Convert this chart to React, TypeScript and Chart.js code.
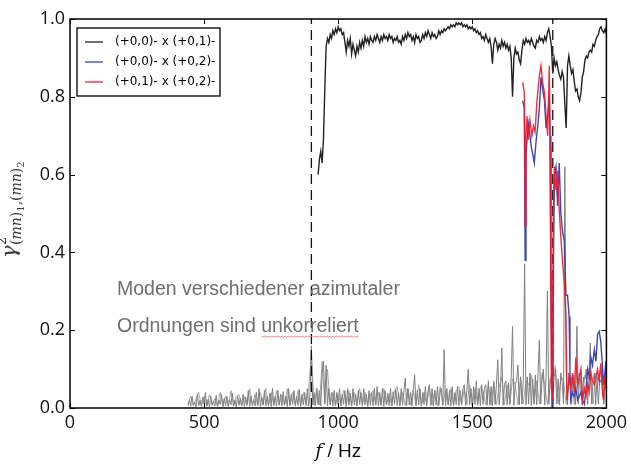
import React, { useEffect, useRef } from 'react';
import { Chart, registerables } from 'chart.js';

Chart.register(...registerables);

// ---------- axis ticks & labels ----------
const X_TICKS = [0, 500, 1000, 1500, 2000];
const Y_TICKS = [0, 0.2, 0.4, 0.6, 0.8, 1.0];
const LEGEND_LABELS = ['(+0,0)- x (+0,1)-', '(+0,0)- x (+0,2)-', '(+0,1)- x (+0,2)-'];
const ANNOTATION_LINES = ['Moden verschiedener azimutaler', 'Ordnungen sind unkorreliert'];
const X_TITLE_MATH = 'f';
const X_TITLE_TEXT = ' / Hz';
const VLINE_FREQS = [900, 1800];

// ---------- black: (+0,0) x (+0,1), 5 Hz grid from 925 Hz ----------
const BLACK_F0 = 925;
const BLACK_STEP = 5;
const BLACK_V = [
  0.60, 0.64, 0.66, 0.63, 0.69, 0.82, 0.93, 0.95, 0.94, 0.96,
  0.95, 0.97, 0.96, 0.975, 0.965, 0.98, 0.97, 0.975, 0.96, 0.965,
  0.94, 0.915, 0.945, 0.93, 0.95, 0.91, 0.935, 0.92, 0.905, 0.93,
  0.915, 0.94, 0.925, 0.945, 0.93, 0.955, 0.94, 0.95, 0.935, 0.955,
  0.945, 0.94, 0.955, 0.945, 0.96, 0.95, 0.94, 0.955, 0.945, 0.96,
  0.95, 0.955, 0.945, 0.96, 0.95, 0.955, 0.94, 0.95, 0.945, 0.955,
  0.94, 0.945, 0.935, 0.955, 0.945, 0.96, 0.95, 0.965, 0.955, 0.96,
  0.945, 0.955, 0.94, 0.96, 0.95, 0.955, 0.94, 0.945, 0.96, 0.95,
  0.965, 0.955, 0.97, 0.96, 0.95, 0.965, 0.955, 0.96, 0.95, 0.955,
  0.97, 0.96, 0.97, 0.965, 0.975, 0.97, 0.975, 0.98, 0.975, 0.985,
  0.98, 0.985, 0.98, 0.99, 0.985, 0.99, 0.985, 0.99, 0.98, 0.985,
  0.98, 0.985, 0.975, 0.98, 0.975, 0.98, 0.97, 0.975, 0.965, 0.97,
  0.96, 0.965, 0.95, 0.955, 0.945, 0.96, 0.95, 0.94, 0.95, 0.93,
  0.885, 0.935, 0.95, 0.94, 0.92, 0.935, 0.925, 0.945, 0.93, 0.94,
  0.925, 0.935, 0.92, 0.93, 0.90, 0.80, 0.90, 0.925, 0.91, 0.915,
  0.895, 0.885, 0.92, 0.945, 0.935, 0.95, 0.94, 0.945, 0.935, 0.95,
  0.94, 0.93, 0.925, 0.945, 0.94, 0.955, 0.945, 0.95, 0.94, 0.955,
  0.945, 0.965, 0.975, 0.955, 0.93, 0.86, 0.90, 0.88, 0.89, 0.87,
  0.855, 0.845, 0.865, 0.85, 0.78, 0.72, 0.88, 0.905, 0.88, 0.86,
  0.87, 0.84, 0.815, 0.82, 0.80, 0.79, 0.81, 0.85, 0.865, 0.895,
  0.905, 0.90, 0.915, 0.92, 0.915, 0.935, 0.93, 0.945, 0.955, 0.96,
  0.975, 0.98, 0.97, 0.965, 0.975, 0.96,
];

// ---------- blue: (+0,0) x (+0,2) ----------
const BLUE_F = [
  1688, 1694, 1697, 1700, 1704, 1709, 1715, 1720, 1726, 1731, 1737, 1744, 1750, 1756, 1762,
  1769, 1775, 1781, 1787, 1790, 1793, 1797, 1800, 1803, 1806, 1812, 1818, 1824, 1830, 1837,
  1843, 1849, 1855, 1861, 1864, 1867, 1873, 1880, 1886, 1893, 1899, 1905, 1911, 1918, 1924,
  1930, 1936, 1942, 1948, 1955, 1961, 1967, 1973, 1979, 1984, 1989, 1994, 1998, 2000,
];
const BLUE_V = [
  0.79, 0.77, 0.38, 0.65, 0.69, 0.73, 0.70, 0.67, 0.65, 0.63, 0.68, 0.725, 0.77, 0.85, 0.82,
  0.79, 0.72, 0.75, 0.80, 0.70, 0.33, 0.01, 0.02, 0.40, 0.60, 0.62, 0.52, 0.63, 0.50, 0.45,
  0.43, 0.29, 0.29, 0.235, 0.10, 0.02, 0.04, 0.03, 0.05, 0.02, 0.03, 0.04, 0.02, 0.01, 0.05,
  0.10, 0.08, 0.13, 0.11, 0.15, 0.12, 0.19, 0.197, 0.17, 0.12, 0.06, 0.09, 0.12, 0.05,
];

// ---------- red: (+0,1) x (+0,2) ----------
const RED_F = [
  1688, 1694, 1697, 1700, 1704, 1709, 1715, 1722, 1728, 1734, 1741, 1750, 1756, 1762, 1769,
  1775, 1781, 1787, 1790, 1793, 1795, 1797, 1799, 1802, 1806, 1812, 1818, 1824, 1830, 1837,
  1843, 1849, 1853, 1861, 1868, 1874, 1880, 1886, 1893, 1899, 1905, 1911, 1918, 1924, 1930,
  1936, 1942, 1948, 1955, 1961, 1967, 1973, 1979, 1984, 1989, 1994, 1998,
];
const RED_V = [
  0.837, 0.81, 0.467, 0.70, 0.75, 0.69, 0.74, 0.70, 0.725, 0.71, 0.79, 0.854, 0.88, 0.837, 0.81,
  0.75, 0.70, 0.88, 0.67, 0.32, 0.05, 0.35, 0.02, 0.50, 0.62, 0.56, 0.61, 0.51, 0.44, 0.37,
  0.32, 0.235, 0.02, 0.08, 0.05, 0.09, 0.04, 0.13, 0.06, 0.08, 0.10, 0.02, 0.05, 0.03, 0.06,
  0.04, 0.09, 0.07, 0.06, 0.08, 0.10, 0.07, 0.115, 0.05, 0.02, 0.08, 0.06,
];

// ---------- grey: other mode pairs (5 Hz grid from 440 Hz) ----------
const GREY_F0 = 440;
const GREY_STEP = 5;
const GREY_V = [
  0.005, 0.02, 0.004, 0.03, 0.008, 0.015, 0.003, 0.035, 0.006, 0.02,
  0.004, 0.028, 0.01, 0.04, 0.005, 0.022, 0.003, 0.03, 0.007, 0.018,
  0.005, 0.032, 0.004, 0.02, 0.009, 0.035, 0.003, 0.025, 0.006, 0.03,
  0.004, 0.022, 0.008, 0.038, 0.005, 0.02, 0.003, 0.03, 0.007, 0.025,
  0.005, 0.035, 0.004, 0.028, 0.009, 0.045, 0.004, 0.03, 0.006, 0.022,
  0.005, 0.04, 0.007, 0.05, 0.004, 0.028, 0.008, 0.045, 0.005, 0.03,
  0.006, 0.038, 0.004, 0.05, 0.008, 0.03, 0.005, 0.045, 0.007, 0.035,
  0.005, 0.042, 0.008, 0.03, 0.004, 0.05, 0.006, 0.035, 0.009, 0.045,
  0.005, 0.03, 0.007, 0.048, 0.004, 0.035, 0.008, 0.04, 0.006, 0.05,
  0.005, 0.035, 0.16, 0.008, 0.04, 0.006, 0.05, 0.008, 0.045, 0.005,
  0.09, 0.12, 0.01, 0.11, 0.006, 0.05, 0.008, 0.04, 0.005, 0.045,
  0.006, 0.04, 0.008, 0.05, 0.005, 0.035, 0.009, 0.045, 0.004, 0.05,
  0.007, 0.038, 0.005, 0.05, 0.008, 0.035, 0.006, 0.045, 0.009, 0.04,
  0.005, 0.05, 0.008, 0.035, 0.004, 0.045, 0.007, 0.04, 0.006, 0.05,
  0.008, 0.055, 0.005, 0.04, 0.007, 0.05, 0.004, 0.045, 0.008, 0.038,
  0.006, 0.05, 0.005, 0.042, 0.009, 0.048, 0.006, 0.04, 0.005, 0.05,
  0.007, 0.045, 0.077, 0.006, 0.05, 0.008, 0.04, 0.005, 0.048, 0.085,
  0.006, 0.045, 0.008, 0.05, 0.005, 0.04, 0.009, 0.055, 0.006, 0.045,
  0.06, 0.007, 0.05, 0.005, 0.045, 0.008, 0.055, 0.006, 0.04, 0.05,
  0.007, 0.15, 0.006, 0.05, 0.008, 0.045, 0.005, 0.055, 0.007, 0.04,
  0.008, 0.055, 0.006, 0.045, 0.009, 0.05, 0.06, 0.007, 0.048, 0.10,
  0.008, 0.05, 0.006, 0.055, 0.009, 0.07, 0.007, 0.05, 0.006, 0.06,
  0.009, 0.05, 0.06, 0.007, 0.07, 0.008, 0.055, 0.006, 0.065, 0.009,
  0.06, 0.124, 0.008, 0.05, 0.154, 0.007, 0.06, 0.07, 0.008, 0.065,
  0.009, 0.08, 0.21, 0.007, 0.06, 0.07, 0.11, 0.008, 0.08, 0.01,
  0.07, 0.37, 0.008, 0.08, 0.01, 0.09, 0.007, 0.075, 0.01, 0.085,
  0.008, 0.09, 0.175, 0.01, 0.07, 0.10, 0.008, 0.08, 0.30, 0.01,
  0.06, 0.09, 0.008, 0.08, 0.10, 0.01, 0.075, 0.008, 0.09, 0.065,
  0.01, 0.62, 0.10, 0.008, 0.09, 0.07, 0.01, 0.085, 0.065, 0.009,
  0.21, 0.01, 0.09, 0.06, 0.008, 0.08, 0.075, 0.10, 0.009, 0.08,
  0.167, 0.01, 0.07, 0.09, 0.008, 0.08, 0.01, 0.075, 0.065, 0.09,
  0.01, 0.08, 0.05,
];

// ---------- light grey: further mode pairs (10 Hz grid from 440 Hz) ----------
const LGREY_F0 = 440;
const LGREY_STEP = 10;
const LGREY_V = [
  0.01, 0.03, 0.005, 0.025, 0.04, 0.006, 0.03, 0.004, 0.035, 0.008,
  0.025, 0.005, 0.04, 0.007, 0.03, 0.005, 0.045, 0.006, 0.03, 0.035,
  0.006, 0.03, 0.005, 0.05, 0.008, 0.035, 0.005, 0.04, 0.007, 0.05,
  0.006, 0.04, 0.005, 0.045, 0.008, 0.035, 0.006, 0.05, 0.007, 0.04,
  0.008, 0.045, 0.006, 0.04, 0.009, 0.05, 0.14, 0.007, 0.05, 0.008,
  0.12, 0.01, 0.10, 0.008, 0.04, 0.006, 0.035, 0.008, 0.045, 0.006,
  0.045, 0.007, 0.04, 0.006, 0.05, 0.008, 0.04, 0.006, 0.035, 0.045,
  0.007, 0.04, 0.006, 0.05, 0.008, 0.035, 0.006, 0.045, 0.055, 0.008,
  0.04, 0.006, 0.05, 0.008, 0.045, 0.007, 0.06, 0.006, 0.04, 0.008,
  0.05, 0.007, 0.045, 0.006, 0.055, 0.008, 0.045, 0.007, 0.05, 0.006,
  0.045, 0.055, 0.007, 0.05, 0.008, 0.06, 0.007, 0.05, 0.009, 0.055,
  0.045, 0.008, 0.06, 0.007, 0.07, 0.009, 0.055, 0.08, 0.008, 0.06,
  0.01, 0.075, 0.06, 0.008, 0.08, 0.01, 0.07, 0.06, 0.085, 0.01,
  0.07, 0.01, 0.09, 0.06, 0.008, 0.075, 0.08, 0.11, 0.01, 0.08,
  0.07, 0.01, 0.065, 0.08, 0.009, 0.10, 0.07, 0.01, 0.085, 0.075,
  0.08, 0.01, 0.09, 0.07, 0.11, 0.01, 0.08,
];

const COLORS = {
  black: '#222222',
  blue: '#3c46b4',
  red: 'rgba(240,24,40,0.9)',
  grey: '#808080',
  lgrey: '#a8a8a8',
};

const gridSeries = (f0: number, step: number, vals: number[]) =>
  vals.map((v, i) => ({ x: f0 + i * step, y: v }));
const pairSeries = (fs: number[], vs: number[]) => fs.map((f, i) => ({ x: f, y: vs[i] }));

const decorPlugin = {
  id: 'decor',
  afterDraw(chart: any) {
    const { ctx, chartArea: a, scales } = chart;
    const xs = scales.x;
    const ys = scales.y;
    ctx.save();

    // frame
    ctx.strokeStyle = '#000';
    ctx.lineWidth = 1.5;
    ctx.strokeRect(a.left, a.top, a.right - a.left, a.bottom - a.top);

    // inward ticks on all four sides
    ctx.lineWidth = 1;
    ctx.beginPath();
    const TL = 5;
    X_TICKS.forEach((v) => {
      const px = Math.round(xs.getPixelForValue(v)) + 0.5;
      ctx.moveTo(px, a.bottom);
      ctx.lineTo(px, a.bottom - TL);
      ctx.moveTo(px, a.top);
      ctx.lineTo(px, a.top + TL);
    });
    Y_TICKS.forEach((v) => {
      const py = Math.round(ys.getPixelForValue(v)) + 0.5;
      ctx.moveTo(a.left, py);
      ctx.lineTo(a.left + TL, py);
      ctx.moveTo(a.right, py);
      ctx.lineTo(a.right - TL, py);
    });
    ctx.stroke();

    // legend box
    const lx = a.left + 7;
    const ly = a.top + 9;
    const lw = 143;
    const lh = 68;
    ctx.fillStyle = '#fff';
    ctx.fillRect(lx, ly, lw, lh);
    ctx.strokeStyle = '#000';
    ctx.lineWidth = 1.3;
    ctx.strokeRect(lx, ly, lw, lh);
    const legendColors = [COLORS.black, COLORS.blue, '#f0202e'];
    ctx.font = '12px "DejaVu Sans"';
    ctx.textBaseline = 'middle';
    ctx.textAlign = 'left';
    LEGEND_LABELS.forEach((lab, i) => {
      const cy = ly + 14 + i * 20;
      ctx.strokeStyle = legendColors[i];
      ctx.lineWidth = 1.3;
      ctx.beginPath();
      ctx.moveTo(lx + 8, cy);
      ctx.lineTo(lx + 26, cy);
      ctx.stroke();
      ctx.fillStyle = '#000';
      ctx.fillText(lab, lx + 38, cy);
    });

    // annotation text
    ctx.fillStyle = '#6e6e6e';
    ctx.font = '19.5px "Liberation Sans"';
    ctx.textBaseline = 'alphabetic';
    const tx = a.left + 47;
    const b1 = a.top + 276;
    const b2 = a.top + 313;
    ctx.fillText(ANNOTATION_LINES[0], tx, b1);
    ctx.fillText(ANNOTATION_LINES[1], tx, b2);
    // spell-check style wavy underline under last word
    const words = ANNOTATION_LINES[1].split(' ');
    const lastWord = words[words.length - 1];
    const prefix = ANNOTATION_LINES[1].slice(0, ANNOTATION_LINES[1].length - lastWord.length);
    const ux0 = tx + ctx.measureText(prefix).width;
    const ux1 = ux0 + ctx.measureText(lastWord).width;
    ctx.strokeStyle = 'rgba(230,70,70,0.85)';
    ctx.lineWidth = 0.8;
    ctx.beginPath();
    let up = true;
    for (let x = ux0; x <= ux1; x += 1.5) {
      const y = b2 + 4 + (up ? 0 : 1.2);
      if (x === ux0) ctx.moveTo(x, y);
      else ctx.lineTo(x, y);
      up = !up;
    }
    ctx.stroke();

    // x-axis title
    ctx.fillStyle = '#111';
    ctx.font = 'italic 19px "DejaVu Serif"';
    const wf = ctx.measureText(X_TITLE_MATH).width;
    ctx.font = '19px "Liberation Sans"';
    const wt = ctx.measureText(X_TITLE_TEXT).width;
    const cx = (a.left + a.right) / 2;
    const sx = cx - (wf + wt) / 2;
    const by = 457;
    ctx.font = 'italic 19px "DejaVu Serif"';
    ctx.fillText(X_TITLE_MATH, sx, by);
    ctx.font = '19px "Liberation Sans"';
    ctx.fillText(X_TITLE_TEXT, sx + wf, by);

    // y-axis title: gamma^2_{(mn)_1,(mn)_2}
    ctx.translate(16, 258);
    ctx.rotate(-Math.PI / 2);
    ctx.fillStyle = '#3a3a3a';
    let x = 0;
    ctx.font = 'italic 21px "DejaVu Serif"';
    ctx.fillText('γ', x, 0);
    x += ctx.measureText('γ').width + 0.5;
    ctx.font = '13px "DejaVu Serif"';
    ctx.fillText('2', x, -10);
    const parts: [string, string, number][] = [
      ['(', '14px "DejaVu Serif"', 5],
      ['mn', 'italic 14px "DejaVu Serif"', 5],
      [')', '14px "DejaVu Serif"', 5],
      ['1', '10px "DejaVu Serif"', 8],
      [',', '14px "DejaVu Serif"', 5],
      ['(', '14px "DejaVu Serif"', 5],
      ['mn', 'italic 14px "DejaVu Serif"', 5],
      [')', '14px "DejaVu Serif"', 5],
      ['2', '10px "DejaVu Serif"', 8],
    ];
    parts.forEach(([t, f, dy]) => {
      ctx.font = f;
      ctx.fillText(t, x, dy);
      x += ctx.measureText(t).width;
    });

    ctx.restore();
  },
};

export default function App() {
  const ref = useRef<HTMLCanvasElement>(null);

  useEffect(() => {
    const canvas = ref.current;
    if (!canvas) return;

    const vlineSets = VLINE_FREQS.map((f) => ({
      data: [
        { x: f, y: 0 },
        { x: f, y: 1 },
      ],
      borderColor: '#111',
      borderWidth: 1.3,
      borderDash: [10, 6],
      order: 3,
    }));

    const chart = new Chart(canvas, {
      type: 'line',
      data: {
        datasets: [
          { label: LEGEND_LABELS[2], data: pairSeries(RED_F, RED_V), borderColor: COLORS.red, borderWidth: 1.4, order: 0 },
          { label: LEGEND_LABELS[1], data: pairSeries(BLUE_F, BLUE_V), borderColor: COLORS.blue, borderWidth: 1.4, order: 1 },
          { label: LEGEND_LABELS[0], data: gridSeries(BLACK_F0, BLACK_STEP, BLACK_V), borderColor: COLORS.black, borderWidth: 1.4, order: 2 },
          ...vlineSets,
          { data: gridSeries(GREY_F0, GREY_STEP, GREY_V), borderColor: COLORS.grey, borderWidth: 1, order: 4 },
          { data: gridSeries(LGREY_F0, LGREY_STEP, LGREY_V), borderColor: COLORS.lgrey, borderWidth: 1, order: 5 },
        ] as any,
      },
      options: {
        animation: false,
        responsive: false,
        events: [],
        elements: { point: { radius: 0 }, line: { tension: 0 } },
        layout: { padding: { left: 0, top: 19, right: 22, bottom: 0 } },
        plugins: { legend: { display: false }, tooltip: { enabled: false } },
        scales: {
          x: {
            type: 'linear',
            min: 0,
            max: 2000,
            afterBuildTicks: (s: any) => {
              s.ticks = X_TICKS.map((value) => ({ value }));
            },
            afterFit: (s: any) => {
              s.height = 57;
            },
            grid: { display: false, drawTicks: false },
            border: { display: false },
            ticks: {
              autoSkip: false,
              maxRotation: 0,
              padding: 4,
              color: '#111',
              font: { family: '"Open Sans"', size: 18 },
              callback: (v: any) => String(v),
            },
          },
          y: {
            type: 'linear',
            min: 0,
            max: 1,
            afterBuildTicks: (s: any) => {
              s.ticks = Y_TICKS.map((value) => ({ value }));
            },
            afterFit: (s: any) => {
              s.width = 70;
            },
            grid: { display: false, drawTicks: false },
            border: { display: false },
            ticks: {
              autoSkip: false,
              padding: 5,
              color: '#111',
              font: { family: '"Open Sans"', size: 18 },
              callback: (v: any) => Number(v).toFixed(1),
            },
          },
        },
      } as any,
      plugins: [decorPlugin],
    });

    return () => chart.destroy();
  }, []);

  return (
    <div style={{ position: 'fixed', left: 0, top: 0, width: 631, height: 465, background: '#fff' }}>
      <canvas ref={ref} width={631} height={465} style={{ display: 'block' }} />
    </div>
  );
}
